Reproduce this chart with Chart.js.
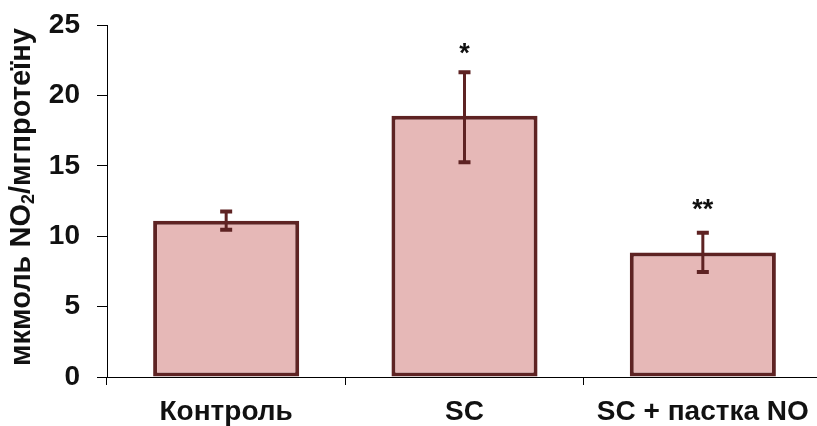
<!DOCTYPE html>
<html>
<head>
<meta charset="utf-8">
<script src="https://cdn.jsdelivr.net/npm/chart.js@4.4.1/dist/chart.umd.min.js"></script>
<style>
    html, body { margin: 0; padding: 0; background: #fff; overflow: hidden; }
    #wrap { width: 830px; height: 426px; }
</style>
</head>
<body>
<div id="wrap"><canvas id="Chart1"></canvas></div>
<script>
var categories = ['Контроль', 'SC', 'SC + пастка NO'];
var meanValues = [11.1, 18.55, 8.85];
var errLow = [10.45, 15.25, 7.45];
var errHigh = [11.75, 21.65, 10.25];
var marks = ['', '*', '**'];
var yTicks = [0, 5, 10, 15, 20, 25];

var darkRed = '#5e2323';
var fontFamily = "'Liberation Sans', Arial, sans-serif";

// error bars + significance marks
var errorBars = {
    id: 'errorBars',
    afterDatasetsDraw: function (chart) {
        var ctx = chart.ctx;
        var y = chart.scales.y;
        var meta = chart.getDatasetMeta(0);
        ctx.save();
        ctx.strokeStyle = darkRed;
        ctx.fillStyle = darkRed;
        for (var i = 0; i < meanValues.length; i++) {
            var x = meta.data[i].x;
            var top = y.getPixelForValue(errHigh[i]);
            var bot = y.getPixelForValue(errLow[i]);
            ctx.lineWidth = 3;
            ctx.beginPath();
            ctx.moveTo(x, top);
            ctx.lineTo(x, bot);
            ctx.stroke();
            ctx.lineWidth = 4;
            ctx.beginPath();
            ctx.moveTo(x - 6, top); ctx.lineTo(x + 6, top);
            ctx.moveTo(x - 6, bot); ctx.lineTo(x + 6, bot);
            ctx.stroke();
            if (marks[i]) {
                ctx.fillStyle = '#111';
                ctx.font = 'bold 27px ' + fontFamily;
                ctx.textAlign = 'center';
                ctx.textBaseline = 'alphabetic';
                ctx.fillText(marks[i], x, top - 10 - (marks[i].length - 1) * 5);
                ctx.fillStyle = darkRed;
            }
        }
        ctx.restore();
    }
};

// y title with subscript
var yTitle = {
    id: 'yTitle',
    afterDraw: function (chart) {
        var ctx = chart.ctx;
        var area = chart.chartArea;
        var parts = [['мкмоль NO', 29, 0], ['2', 18, 7], ['/мгпротеїну', 29, 0]];
        ctx.save();
        ctx.translate(22, (area.top + area.bottom) / 2 - 4);
        ctx.rotate(-Math.PI / 2);
        ctx.fillStyle = '#111';
        ctx.textBaseline = 'middle';
        ctx.textAlign = 'left';
        var total = 0;
        parts.forEach(function (p) {
            ctx.font = 'bold ' + p[1] + 'px ' + fontFamily;
            total += ctx.measureText(p[0]).width;
        });
        var pos = -total / 2;
        parts.forEach(function (p) {
            ctx.font = 'bold ' + p[1] + 'px ' + fontFamily;
            ctx.fillText(p[0], pos, p[2]);
            pos += ctx.measureText(p[0]).width;
        });
        ctx.restore();
    }
};

var ctx = document.getElementById('Chart1').getContext('2d');
var Chart1 = new Chart(ctx, {
    type: 'bar',
    data: {
        labels: categories,
        datasets: [{
            data: meanValues,
            backgroundColor: '#e6b8b7',
            borderColor: darkRed,
            borderWidth: 4,
            borderSkipped: false,
            categoryPercentage: 1,
            barPercentage: 0.613
        }]
    },
    options: {
        responsive: true,
        maintainAspectRatio: false,
        devicePixelRatio: 1,
        animation: false,
        layout: {
            padding: { left: 0, right: 8, top: 25, bottom: 0 }
        },
        plugins: {
            legend: { display: false },
            tooltip: { enabled: false }
        },
        scales: {
            x: {
                afterFit: function (s) { s.height = 49; s.paddingLeft = 0; s.paddingRight = 0; },
                grid: {
                    offset: true,
                    drawOnChartArea: false,
                    tickLength: 8,
                    color: '#000',
                    tickColor: '#000'
                },
                border: { color: '#000', width: 1 },
                ticks: {
                    color: '#111',
                    padding: 10,
                    font: { family: fontFamily, size: 28, weight: 'bold' }
                }
            },
            y: {
                min: 0,
                max: 25,
                afterFit: function (s) { s.width = 107; s.paddingTop = 0; s.paddingBottom = 0; },
                afterBuildTicks: function (scale) {
                    scale.ticks = yTicks.map(function (v) { return { value: v }; });
                },
                grid: {
                    drawOnChartArea: false,
                    tickLength: 10,
                    color: '#000',
                    tickColor: '#000'
                },
                border: { color: '#000', width: 1 },
                ticks: {
                    color: '#111',
                    padding: 17,
                    font: { family: fontFamily, size: 28, weight: 'bold' }
                }
            }
        }
    },
    plugins: [errorBars, yTitle]
});
</script>
</body>
</html>
